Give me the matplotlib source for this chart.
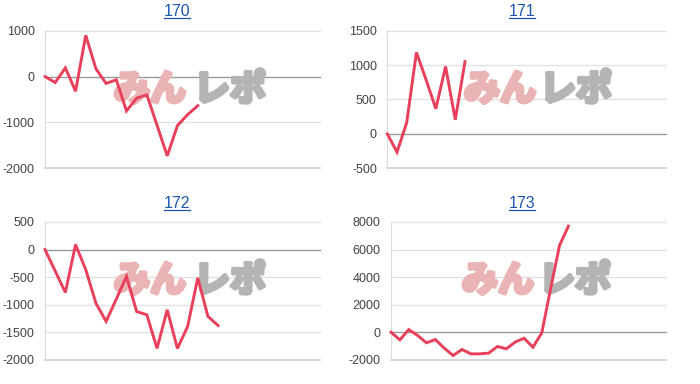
import matplotlib
matplotlib.use("Agg")
import matplotlib.pyplot as plt
import matplotlib.patheffects as pe
from matplotlib.lines import Line2D

# === data ===
titles = ["170", "171", "172", "173"]

diff_170 = [0, -130, 190, -320, 900, 170, -150, -70, -750, -470, -400,
            -1060, -1730, -1070, -830, -635]
diff_171 = [0, -265, 165, 1185, 785, 365, 980, 205, 1050]
diff_172 = [0, -390, -780, 90, -365, -975, -1305, -900, -490, -1125, -1185,
            -1795, -1095, -1795, -1400, -515, -1215, -1380]
diff_173 = [0, -560, 190, -240, -775, -535, -1160, -1695, -1260, -1575, -1575,
            -1525, -1040, -1210, -720, -440, -1090, -50, 3180, 6300, 7700]

yticks_170 = [-2000, -1000, 0, 1000]
yticks_171 = [-500, 0, 500, 1000, 1500]
yticks_172 = [-2000, -1500, -1000, -500, 0, 500]
yticks_173 = [-2000, 0, 2000, 4000, 6000, 8000]

series = [diff_170, diff_171, diff_172, diff_173]
yticks = [yticks_170, yticks_171, yticks_172, yticks_173]

# === layout (figure pixels) ===
W, H = 700, 384
boxes = [(45, 30.7, 320, 168.3), (387.3, 30.7, 666, 168.3),
         (45, 222, 320, 359.7), (391, 222, 666, 359.7)]
x_max = [27, 28.7, 27, 31]
title_pos = [(177, 16.5), (522, 16.5), (177, 208.5), (522, 208.5)]
mark_pos = [(150, 230, 90), (500, 576, 90), (150, 230, 281), (498, 575, 281)]

LINE = "#e8405a"
PINK = "#eab4b4"
GREY = "#b4b4b4"
plt.rcParams['font.family'] = ['Liberation Sans', 'DejaVu Sans']

fig = plt.figure(figsize=(W / 100, H / 100), dpi=100)

for i in range(4):
    l, t, r, b = boxes[i]
    ax = fig.add_axes([l / W, 1 - b / H, (r - l) / W, (b - t) / H])
    ax.set_facecolor("none")
    ticks = yticks[i]
    ax.set_ylim(ticks[0], ticks[-1])
    ax.set_xlim(0, x_max[i])

    for v in ticks:
        if v == 0:
            ax.axhline(v, color="#9a9a9a", lw=1, clip_on=False, zorder=1)
        elif v == ticks[0]:
            ax.axhline(v, color="#d6d6d6", lw=1.4, clip_on=False, zorder=1)
        else:
            ax.axhline(v, color="#e2e2e2", lw=1, clip_on=False, zorder=1)

    for s in ["top", "right", "bottom"]:
        ax.spines[s].set_visible(False)
    ax.spines["left"].set_color("#dcdcdc")
    ax.spines["left"].set_linewidth(0.8)

    ax.set_yticks(ticks)
    ax.set_yticklabels([str(v) for v in ticks])
    ax.tick_params(axis="y", length=0, pad=7.5, labelsize=9, labelcolor="#444444")
    ax.set_xticks([])

    # watermark
    px, gx, my = mark_pos[i]
    ax.text(px / W, 1 - my / H, "みん", transform=fig.transFigure,
            ha="center", va="center", fontsize=26, fontweight="bold",
            color=PINK, family=["Noto Sans CJK JP"], zorder=1.5,
            path_effects=[pe.withStroke(linewidth=3, foreground=PINK)])
    ax.text(gx / W, 1 - my / H, "レポ", transform=fig.transFigure,
            ha="center", va="center", fontsize=26, fontweight="bold",
            color=GREY, family=["Noto Sans CJK JP"], zorder=1.5,
            path_effects=[pe.withStroke(linewidth=3, foreground=GREY)])

    vals = series[i]
    ax.plot(range(len(vals)), vals, color=LINE, lw=2.1, zorder=3,
            solid_joinstyle="miter", clip_on=False)

# titles with underline
renderer = fig.canvas.get_renderer()
for i in range(4):
    tx, ty = title_pos[i]
    txt = fig.text(tx / W, 1 - ty / H, titles[i], ha="center", va="baseline",
                   fontsize=11.5, color="#1a55b0")
    bb = txt.get_window_extent(renderer)
    uy = 1 - (ty + 1.8) / H
    fig.add_artist(Line2D([bb.x0 / W, bb.x1 / W], [uy, uy],
                          transform=fig.transFigure, color="#1a55b0", lw=0.9))

fig.savefig("out.png", dpi=100)
